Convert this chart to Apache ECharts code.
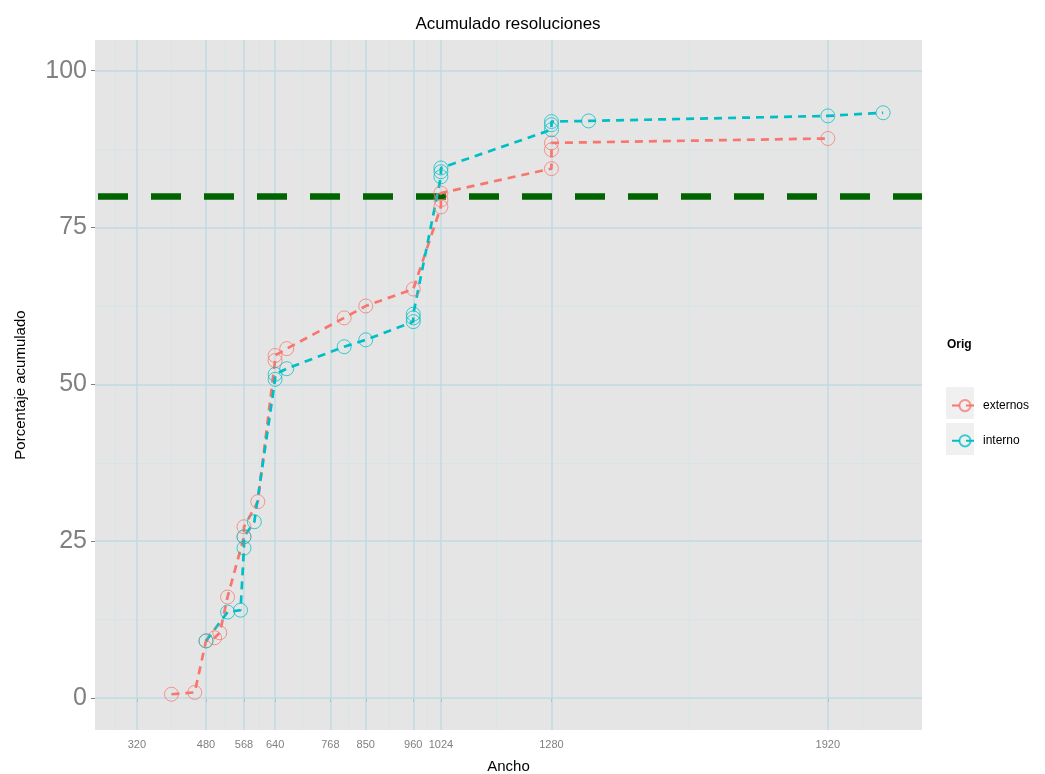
<!DOCTYPE html>
<html>
<head>
<meta charset="utf-8">
<script src="https://cdn.jsdelivr.net/npm/echarts@6/dist/echarts.min.js"></script>
<style>html,body{margin:0;padding:0;background:#fff}#c{width:1045px;height:774px}</style>
</head>
<body>
<div id="c"></div>
<script>
// ---- data ----
const xTicks = [320, 480, 568, 640, 768, 850, 960, 1024, 1280, 1920];
const xMinor = [270, 400, 524, 604, 704, 809, 905, 992, 1152, 1600, 2000];
const yTicks = [0, 25, 50, 75, 100];
const yMinor = [12.5, 37.5, 62.5, 87.5];
const threshold = 80;

const extX = [400, 454, 480, 500, 512, 530, 568, 568, 600, 640, 640, 667, 800, 850, 960, 1024, 1024, 1024, 1280, 1280, 1280, 1920];
const extY = [0.6, 0.9, 9.1, 9.6, 10.4, 16.1, 25.7, 27.3, 31.3, 53.8, 54.6, 55.7, 60.6, 62.5, 65.2, 78.3, 79.4, 80.5, 84.4, 87.4, 88.5, 89.2];

const intX = [480, 530, 560, 568, 568, 592, 640, 640, 667, 800, 850, 960, 960, 960, 1024, 1024, 1024, 1280, 1280, 1280, 1366, 1920, 2048];
const intY = [9.1, 13.7, 14.0, 23.9, 25.7, 28.1, 50.8, 51.6, 52.5, 56.0, 57.1, 60.0, 60.6, 61.2, 83.1, 83.9, 84.5, 90.6, 91.4, 91.9, 92.0, 92.8, 93.3];

const RED = '#F8766D', CYAN = '#00BFC4';
const pairs = (xs, ys) => xs.map((x, i) => [x, ys[i]]);

const chart = echarts.init(document.getElementById('c'));
const minorStyle = {color: '#d3e4e8', width: 0.8, type: 'solid'};
const majorStyle = {color: '#bfdae1', width: 1.5, type: 'solid'};
const gridLines = [].concat(
  xMinor.map(v => ({xAxis: v, lineStyle: minorStyle})),
  yMinor.map(v => ({yAxis: v, lineStyle: minorStyle})),
  xTicks.map(v => ({xAxis: v, lineStyle: majorStyle})),
  yTicks.map(v => ({yAxis: v, lineStyle: majorStyle}))
);
function mkSeries(name, xs, ys, color) {
  return {
    name: name, type: 'line', data: pairs(xs, ys), z: 5,
    symbol: 'circle', symbolSize: 14,
    itemStyle: {color: 'rgba(255,255,255,0)', borderColor: color, borderWidth: 1, opacity: 0.75},
    lineStyle: {color: color, width: 2.7, type: [8, 6]},
    emphasis: {disabled: true}
  };
}
chart.setOption({
  animation: false,
  backgroundColor: '#ffffff',
  textStyle: {fontFamily: 'Liberation Sans, Arial, sans-serif'},
  grid: {left: 95, right: 123, top: 40, bottom: 44, show: true, backgroundColor: '#E5E5E5', borderWidth: 0,
         containLabel: false, outerBoundsMode: 'none'},
  xAxis: {
    type: 'value', min: 223, max: 2138,
    name: 'Ancho', nameLocation: 'middle', nameGap: 29,
    nameTextStyle: {fontSize: 15, color: '#000'},
    axisLine: {show: false},
    splitLine: {show: false},
    axisTick: {show: true, customValues: xTicks, length: 4, lineStyle: {color: '#7f7f7f'}},
    axisLabel: {customValues: xTicks, fontSize: 11, color: '#7f7f7f', margin: 9, formatter: v => String(v)}
  },
  yAxis: {
    type: 'value', min: -5.1, max: 104.9,
    name: 'Porcentaje acumulado', nameLocation: 'middle', nameGap: 67,
    nameTextStyle: {fontSize: 15, color: '#000'},
    axisLine: {show: false},
    splitLine: {show: false},
    axisTick: {show: true, customValues: yTicks, length: 4, lineStyle: {color: '#7f7f7f'}},
    axisLabel: {customValues: yTicks, fontSize: 25, color: '#808080', margin: 8}
  },
  legend: {
    orient: 'vertical', left: 946, top: 394, itemWidth: 26, itemHeight: 14, itemGap: 22,
    textStyle: {fontSize: 12, color: '#000'},
    data: ['externos', 'interno']
  },
  graphic: [
    {type: 'text', x: 508, y: 16, style: {text: 'Acumulado resoluciones', fontSize: 17, fill: '#000', align: 'center', fontFamily: 'Liberation Sans, Arial, sans-serif'}},
    {type: 'text', x: 947, y: 339, style: {text: 'Orig', fontSize: 12, fontWeight: 'bold', fill: '#000', fontFamily: 'Liberation Sans, Arial, sans-serif'}},
    {type: 'rect', shape: {x: 946, y: 387, width: 28, height: 32}, style: {fill: '#f0f0f0'}, z: -1},
    {type: 'rect', shape: {x: 946, y: 423, width: 28, height: 32}, style: {fill: '#f0f0f0'}, z: -1}
  ],
  series: [
    {type: 'line', data: [], z: 1, silent: true,
     markLine: {silent: true, symbol: 'none', label: {show: false}, animation: false, data: gridLines}},
    mkSeries('externos', extX, extY, RED),
    mkSeries('interno', intX, intY, CYAN),
    {type: 'line', data: [], z: 8, silent: true,
     markLine: {silent: true, symbol: 'none', label: {show: false}, animation: false,
       lineStyle: {color: '#006400', width: 6.5, type: [30, 23], dashOffset: -3},
       data: [{yAxis: threshold}]}}
  ]
});
</script>
</body>
</html>
